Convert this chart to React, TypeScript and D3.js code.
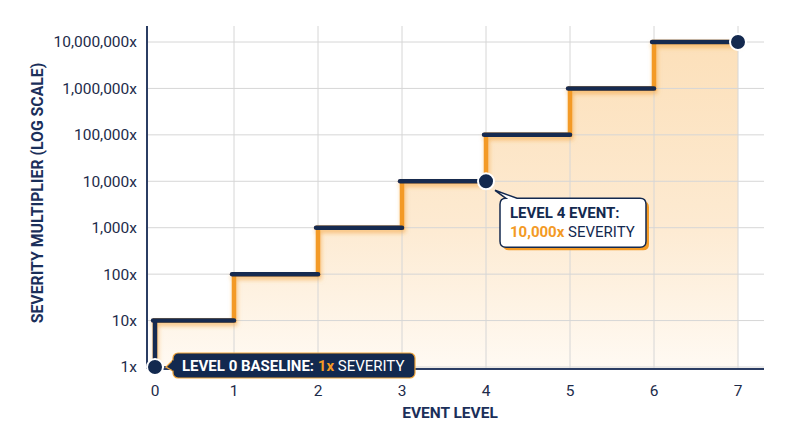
import React from 'react';
import * as d3 from 'd3';

// event levels and their severity multiplier (log scale)
const levels = [0, 1, 2, 3, 4, 5, 6, 7];
const multipliers = [1, 10, 100, 1000, 10000, 100000, 1000000, 10000000];
const yTickValues = [1, 10, 100, 1000, 10000, 100000, 1000000, 10000000];
const xTickValues = [0, 1, 2, 3, 4, 5, 6, 7];
const highlightLevels = [0, 4, 7];

const NAVY = '#13294f';
const ORANGE = '#f39a25';
const TEXT = '#1d2b4a';
const FONT = 'Roboto, "Noto Sans", sans-serif';

export default function App() {
  const width = 800;
  const height = 447;
  const axisX = 147;
  const axisY = 369;
  const plotTop = 26;
  const plotRight = 764;

  // x(0) sits slightly right of the linear position in the original chart
  const x = d3.scaleLinear().domain([0, 1, 7]).range([155, 234, 738]);
  const y = d3.scaleLog().domain([1, 10000000]).range([367, 42]);

  const pts = levels.map((l, i) => ({ level: l, value: multipliers[i] }));

  const stepLine = d3.line<{ level: number; value: number }>()
    .x(d => x(d.level))
    .y(d => y(d.value))
    .curve(d3.curveStepBefore);

  const stepArea = d3.area<{ level: number; value: number }>()
    .x(d => x(d.level))
    .y0(axisY)
    .y1(d => y(d.value))
    .curve(d3.curveStepBefore);

  // horizontal (navy) pieces and vertical (orange) risers
  const flats = pts.slice(1).map((d, i) => ({ x1: x(pts[i].level), x2: x(d.level), y: y(d.value) }));
  const risers = pts.slice(1).map((d, i) => ({ x: x(pts[i].level), y1: y(pts[i].value), y2: y(d.value), first: i === 0 }));

  const fmt = d3.format(',');

  const p4 = { cx: x(4), cy: y(10000) };
  const p0 = { cx: x(0), cy: y(1) };

  // callout for level 4
  const bx = p4.cx + 14, by = p4.cy + 17, bw = 146, bh = 49, r = 6;
  const calloutPath = `M${bx + r},${by} L${p4.cx + 9},${p4.cy + 9} L${bx + 17},${by} L${bx + bw - r},${by} Q${bx + bw},${by} ${bx + bw},${by + r} L${bx + bw},${by + bh - r} Q${bx + bw},${by + bh} ${bx + bw - r},${by + bh} L${bx + r},${by + bh} Q${bx},${by + bh} ${bx},${by + bh - r} L${bx},${by + r} Q${bx},${by} ${bx + r},${by} Z`;

  // baseline label for level 0
  const lx = p0.cx + 18, ly = p0.cy - 14, lw = 242, lh = 25;

  return (
    <svg width={width} height={height} style={{ position: 'absolute', left: 0, top: 0, background: '#fff' }}>
      <defs>
        <linearGradient id="fillGrad" x1="0" y1="0" x2="0" y2="1" gradientUnits="objectBoundingBox">
          <stop offset="0%" stopColor="#fce0ba" />
          <stop offset="55%" stopColor="#fdead1" />
          <stop offset="100%" stopColor="#fffaf3" />
        </linearGradient>
        <filter id="glow" x="-10%" y="-10%" width="120%" height="130%">
          <feDropShadow dx="1" dy="3" stdDeviation="2" floodColor={ORANGE} floodOpacity="0.55" />
        </filter>
      </defs>

      <path d={stepArea(pts) || ''} fill="url(#fillGrad)" />

      {/* grid */}
      <g stroke="#d6d6d6" strokeWidth={1}>
        {yTickValues.map(v => (
          <line key={'gy' + v} x1={axisX} x2={plotRight} y1={y(v)} y2={y(v)} />
        ))}
        {xTickValues.filter(v => v > 0).map(v => (
          <line key={'gx' + v} x1={x(v)} x2={x(v)} y1={plotTop} y2={axisY} />
        ))}
      </g>

      {/* axes */}
      <line x1={axisX} x2={axisX} y1={plotTop} y2={axisY} stroke="#2b3d63" strokeWidth={2} />
      <line x1={axisX} x2={plotRight} y1={axisY} y2={axisY} stroke="#2b3d63" strokeWidth={2} />

      <g fontFamily={FONT} fontSize={15.5} fill={TEXT}>
        {yTickValues.map(v => (
          <text key={'ty' + v} x={137} y={y(v)} dy="0.35em" textAnchor="end">{fmt(v)}x</text>
        ))}
        {xTickValues.map(v => (
          <text key={'tx' + v} x={x(v)} y={391} dy="0.35em" textAnchor="middle">{v}</text>
        ))}
      </g>

      <text x={450} y={413} dy="0.35em" textAnchor="middle" fontFamily={FONT} fontSize={15.5} fontWeight={700} fill="#1b2f5a">EVENT LEVEL</text>
      <text transform="translate(37,193) rotate(-90)" dy="0.35em" textAnchor="middle" fontFamily={FONT} fontSize={15.8} fontWeight={700} fill="#1b2f5a">SEVERITY MULTIPLIER (LOG SCALE)</text>

      {/* step line */}
      <g filter="url(#glow)">
        <path d={stepLine(pts) || ''} fill="none" stroke={ORANGE} strokeWidth={4.5} />
        {risers.filter(s => s.first).map((s, i) => (
          <line key={'r' + i} x1={s.x} x2={s.x} y1={s.y1} y2={s.y2} stroke={NAVY} strokeWidth={4.5} />
        ))}
        {flats.map((s, i) => (
          <line key={'f' + i} x1={s.x1 - 2} x2={s.x2} y1={s.y} y2={s.y} stroke={NAVY} strokeWidth={4.5} strokeLinecap="round" />
        ))}
      </g>

      {/* markers */}
      {pts.filter(d => highlightLevels.includes(d.level)).map(d => (
        <circle key={'c' + d.level} cx={x(d.level)} cy={y(d.value)} r={8} fill={NAVY} stroke="#fff" strokeWidth={2} />
      ))}

      {/* level 4 callout */}
      <path d={calloutPath} fill={ORANGE} transform="translate(3,3)" />
      <path d={calloutPath} fill="#fff" stroke={NAVY} strokeWidth={1.5} />
      <text x={bx + 10} y={by + 20} fontFamily={FONT} fontSize={15} fontWeight={700} fill={NAVY}>LEVEL 4 EVENT:</text>
      <text x={bx + 10} y={by + 39} fontFamily={FONT} fontSize={15} fill={NAVY}>
        <tspan fontWeight={700} fill={ORANGE}>{fmt(10000)}x</tspan> SEVERITY
      </text>

      {/* level 0 baseline label */}
      <line x1={p0.cx + 9} x2={lx - 5} y1={p0.cy} y2={p0.cy} stroke={NAVY} strokeWidth={1.5} />
      <path d={`M${lx},${ly + 7} L${lx - 7},${p0.cy} L${lx},${ly + lh - 7} Z`} fill={NAVY} stroke="#f0a53a" strokeWidth={1.2} />
      <rect x={lx} y={ly} width={lw} height={lh} rx={5} fill={NAVY} stroke="#f0a53a" strokeWidth={1.2} />
      <rect x={lx - 1} y={ly + 7.5} width={3} height={lh - 15} fill={NAVY} />
      <text x={lx + 9} y={ly + 18} fontFamily={FONT} fontSize={15} fill="#fff">
        <tspan fontWeight={700}>LEVEL 0 BASELINE: </tspan>
        <tspan fontWeight={700} fill={ORANGE}>1x</tspan>
        <tspan> SEVERITY</tspan>
      </text>
    </svg>
  );
}
